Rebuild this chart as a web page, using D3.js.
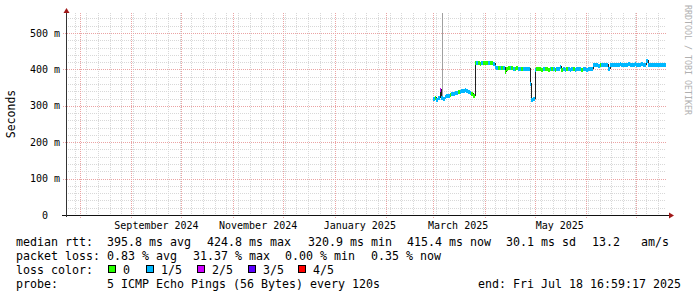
<!DOCTYPE html>
<html>
<head>
<meta charset="utf-8">
<script src="https://cdn.jsdelivr.net/npm/d3@7"></script>
<style>
  body { margin: 0; background: #fff; }
  svg text { font-family: "DejaVu Sans Mono", monospace; white-space: pre; }
</style>
</head>
<body>
<div id="wrapper"></div>
<script>
// graph window: last 360 days
const endTime = new Date(2025, 6, 18, 16, 59, 17);
const startTime = d3.timeDay.offset(endTime, -360);
const dataStart = new Date(2025, 2, 1);

// daily median rtt in ms, from Mar 1 2025
const medianMs = [
  322, 323, 320, 324, 346, 325, 322, 326, 329, 331,
  332, 334, 336, 338, 339, 341, 342, 343, 344, 345,
  344, 342, 338, 334, 331, 420, 419, 421, 418, 420,
  421, 419, 420, 421, 419, 420, 418, 410, 408, 407,
  406, 408, 406, 395, 405, 408, 406, 407, 405, 404,
  406, 405, 404, 405, 404, 403, 404, 403, 363, 320,
  321, 402, 403, 404, 403, 402, 403, 404, 403, 402,
  403, 404, 403, 402, 403, 403, 410, 401, 403, 402,
  403, 403, 402, 403, 403, 402, 403, 404, 403, 402,
  403, 403, 402, 403, 403, 404, 414, 414, 415, 413,
  414, 415, 414, 415, 414, 405, 414, 415, 416, 415,
  414, 416, 417, 415, 416, 415, 416, 417, 416, 415,
  416, 417, 415, 416, 415, 417, 416, 415, 425, 416,
  415, 416, 414, 415, 416, 415, 414, 415, 416, 415,
];

// lost pings out of 5 for each day
const lossLevel = [
  1, 0, 1, 1, 2, 1, 1, 1, 1, 1,
  0, 1, 1, 1, 1, 0, 1, 1, 1, 1,
  1, 1, 1, 0, 0, 0, 1, 0, 0, 1,
  0, 0, 0, 1, 0, 0, 1, 1, 1, 0,
  1, 0, 1, 0, 0, 0, 1, 0, 1, 0,
  0, 1, 1, 0, 1, 1, 1, 1, 1, 1,
  1, 1, 0, 0, 0, 0, 1, 0, 0, 0,
  1, 0, 1, 0, 1, 1, 1, 0, 1, 1,
  0, 1, 1, 1, 0, 1, 1, 1, 1, 0,
  1, 1, 1, 1, 1, 1, 1, 1, 1, 1,
  0, 1, 1, 1, 1, 1, 1, 1, 1, 1,
  1, 1, 1, 1, 1, 1, 1, 1, 1, 1,
  1, 1, 1, 1, 1, 1, 1, 1, 1, 1,
  1, 1, 1, 1, 1, 1, 1, 1, 1, 1,
];

// smoke (max ping) where it stands out of the median
const smokeDays = [5];
const smokeTopMs = [560];

const lossLabels = ["0", "1/5", "2/5", "3/5", "4/5"];
const lossColors = ["#26ff00", "#00b8ff", "#cf00ff", "#5b00ff", "#ff0000"];

const yTicks = [0, 100, 200, 300, 400, 500];
const xLabelMonths = [
  new Date(2024, 8, 1), new Date(2024, 10, 1), new Date(2025, 0, 1),
  new Date(2025, 2, 1), new Date(2025, 4, 1),
];

const medianLegend = ["median rtt:", "395.8 ms avg", "424.8 ms max", "320.9 ms min",
  "415.4 ms now", "30.1 ms sd", "13.2   am/s"];
const lossLegend = ["packet loss:", "0.83 % avg", "31.37 % max", "0.00 % min", "0.35 % now"];
const probeLegend = ["probe:", "5 ICMP Echo Pings (56 Bytes) every 120s"];
const endLegend = "end: Fri Jul 18 16:59:17 2025";

const dataset = medianMs.map((v, i) => ({
  date: d3.timeDay.offset(dataStart, i),
  median: v,
  loss: lossLevel[i],
}));

const width = 697;
const height = 297;
const plot = { left: 66, right: 666, top: 15, bottom: 215 };

const xScale = d3.scaleTime().domain([startTime, endTime]).range([plot.left, plot.right]);
const yScale = d3.scaleLinear().domain([0, 549.5]).range([plot.bottom, plot.top]);

const px = (v) => Math.round(v) + 0.5;

const svg = d3.select("#wrapper").append("svg")
  .attr("width", width).attr("height", height)
  .style("display", "block");

// grid
const grid = svg.append("g").attr("shape-rendering", "crispEdges");

const minorY = d3.range(20, 550, 20).filter((v) => v % 100 !== 0);
grid.selectAll(".minor-y").data(minorY).join("line")
  .attr("x1", plot.left).attr("x2", plot.right)
  .attr("y1", (d) => px(yScale(d))).attr("y2", (d) => px(yScale(d)))
  .attr("stroke", "#d8d8d8").attr("stroke-dasharray", "1,1");

const weeks = d3.timeMonday.range(startTime, endTime)
  .filter((d) => d.getDate() !== 1);
grid.selectAll(".minor-x").data(weeks).join("line")
  .attr("x1", (d) => px(xScale(d))).attr("x2", (d) => px(xScale(d)))
  .attr("y1", plot.top - 2).attr("y2", plot.bottom)
  .attr("stroke", "#d8d8d8").attr("stroke-dasharray", "1,1");

grid.selectAll(".major-y").data(yTicks.slice(1)).join("line")
  .attr("x1", plot.left - 3).attr("x2", plot.right)
  .attr("y1", (d) => px(yScale(d))).attr("y2", (d) => px(yScale(d)))
  .attr("stroke", "#eba3a3").attr("stroke-dasharray", "1,1");

const months = d3.timeMonth.range(d3.timeDay.ceil(startTime), endTime);
grid.selectAll(".major-x").data(months).join("line")
  .attr("x1", (d) => px(xScale(d))).attr("x2", (d) => px(xScale(d)))
  .attr("y1", plot.top - 2).attr("y2", plot.bottom + 3)
  .attr("stroke", "#eba3a3").attr("stroke-dasharray", "1,1");

// data
const clip = svg.append("clipPath").attr("id", "clip").append("rect")
  .attr("x", plot.left).attr("y", plot.top - 2)
  .attr("width", plot.right - plot.left).attr("height", plot.bottom - plot.top + 2);

const chart = svg.append("g").attr("clip-path", "url(#clip)");

chart.selectAll(".smoke").data(smokeDays).join("line")
  .attr("shape-rendering", "crispEdges")
  .attr("x1", (d) => px(xScale(dataset[d].date) + 0.8))
  .attr("x2", (d) => px(xScale(dataset[d].date) + 0.8))
  .attr("y1", (d) => yScale(dataset[d].median))
  .attr("y2", (d, i) => yScale(smokeTopMs[i]))
  .attr("stroke", "#a0a0a0");

const lastEnd = d3.min([d3.timeDay.offset(dataset[dataset.length - 1].date, 1), endTime]);
const linePoints = [...dataset, { date: lastEnd, median: dataset[dataset.length - 1].median }];

const lineGenerator = d3.line()
  .curve(d3.curveStepAfter)
  .x((d) => Math.round(xScale(d.date)) + 0.5)
  .y((d) => Math.round(yScale(d.median)) + 0.5);

chart.append("path")
  .attr("d", lineGenerator(linePoints))
  .attr("fill", "none")
  .attr("stroke", "#202020")
  .attr("stroke-width", 1)
  .attr("shape-rendering", "crispEdges");

chart.selectAll(".med").data(dataset).join("rect")
  .attr("shape-rendering", "crispEdges")
  .attr("x", (d) => Math.round(xScale(d.date)))
  .attr("width", (d) => Math.max(1, Math.round(xScale(d3.min([d3.timeDay.offset(d.date, 1), endTime]))) - Math.round(xScale(d.date))))
  .attr("y", (d) => Math.round(yScale(d.median)) - 1.5)
  .attr("height", 4)
  .attr("fill", (d) => lossColors[d.loss]);

// axes
const axes = svg.append("g").attr("shape-rendering", "crispEdges");
axes.append("line")
  .attr("x1", plot.left - 4).attr("x2", plot.right + 3)
  .attr("y1", plot.bottom + 0.5).attr("y2", plot.bottom + 0.5)
  .attr("stroke", "#111");
axes.append("line")
  .attr("x1", plot.left + 0.5).attr("x2", plot.left + 0.5)
  .attr("y1", plot.bottom + 2).attr("y2", plot.top - 3)
  .attr("stroke", "#333");

svg.append("path")
  .attr("d", `M${plot.left - 2.5},${plot.top - 2}L${plot.left + 3.5},${plot.top - 2}L${plot.left + 0.5},${plot.top - 7}Z`)
  .attr("fill", "#a01818");
svg.append("path")
  .attr("d", `M${plot.right + 3},${plot.bottom - 2.5}L${plot.right + 3},${plot.bottom + 3.5}L${plot.right + 8},${plot.bottom + 0.5}Z`)
  .attr("fill", "#a01818");

svg.append("g").selectAll("text").data(yTicks).join("text")
  .attr("x", 45)
  .attr("y", (d) => yScale(d) + 3.6)
  .attr("text-anchor", "middle")
  .attr("font-size", 10)
  .attr("fill", "#000")
  .text((d) => (d === 0 ? "0" : `${d} m`));

const monthFormat = d3.timeFormat("%B %Y");
svg.append("g").selectAll("text").data(xLabelMonths).join("text")
  .attr("x", (d) => xScale(d3.timeDay.offset(d, 15)))
  .attr("y", 228.5)
  .attr("text-anchor", "middle")
  .attr("font-size", 10)
  .attr("fill", "#000")
  .text((d) => monthFormat(d));

svg.append("text")
  .attr("transform", "translate(14.5,114) rotate(-90)")
  .attr("text-anchor", "middle")
  .attr("font-size", 11.5)
  .attr("fill", "#000")
  .text("Seconds");

svg.append("text")
  .attr("transform", "translate(685,5) rotate(90)")
  .attr("font-size", 8.3)
  .attr("fill", "#b0b0b0")
  .text("RRDTOOL / TOBI OETIKER");

// legend
const legendSize = 11.63;
const row = (y, items, xs) => {
  svg.append("g").selectAll("text").data(items).join("text")
    .attr("x", (d, i) => xs[i])
    .attr("y", y)
    .attr("font-size", legendSize)
    .attr("fill", "#000")
    .text((d) => d);
};

row(246, medianLegend, [16, 107, 207, 308, 407, 506, 592]);
row(260, lossLegend, [16, 107, 193, 285, 371]);
row(274, ["loss color:"], [16]);
row(288, probeLegend, [16, 107]);

svg.append("text")
  .attr("x", 681).attr("y", 288)
  .attr("text-anchor", "end")
  .attr("font-size", legendSize)
  .attr("fill", "#000")
  .text(endLegend);

const boxX = [108, 146, 197, 248, 298];
const lossKey = svg.append("g");
lossKey.selectAll("rect").data(lossLabels).join("rect")
  .attr("shape-rendering", "crispEdges")
  .attr("x", (d, i) => boxX[i] + 0.5).attr("y", 265.5)
  .attr("width", 7).attr("height", 7)
  .attr("fill", (d, i) => lossColors[i])
  .attr("stroke", "#000");
lossKey.selectAll("text").data(lossLabels).join("text")
  .attr("x", (d, i) => boxX[i] + 15)
  .attr("y", 274)
  .attr("font-size", legendSize)
  .attr("fill", "#000")
  .text((d) => d);
</script>
</body>
</html>
